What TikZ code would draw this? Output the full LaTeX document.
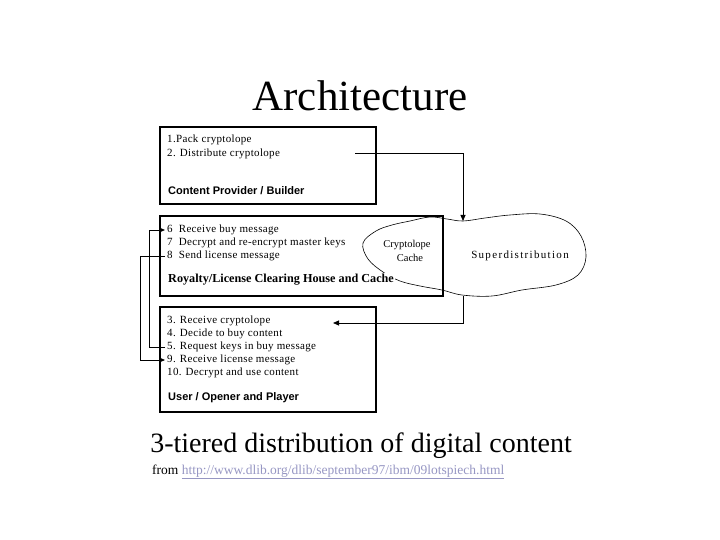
\documentclass[tikz,border=0pt]{standalone}
\usepackage{fontspec}
\setmainfont{Liberation Serif}
\newfontfamily\sansfnt{Liberation Sans}
\newfontfamily\spacedfnt[LetterSpace=12]{Liberation Serif}
\newfontfamily\itemfnt[LetterSpace=3]{Liberation Serif}
\usetikzlibrary{arrows.meta}
\definecolor{linkcol}{RGB}{150,150,195}
\tikzset{
  boxline/.style={draw=black, line width=1.3pt},
  itemtxt/.style={anchor=west, inner sep=2pt, font=\itemfnt\fontsize{11}{12}\selectfont},
  headsans/.style={anchor=west, inner sep=2pt, font=\sansfnt\bfseries\fontsize{11}{12}\selectfont},
  headserif/.style={anchor=west, inner sep=1pt, fill=white, font=\bfseries\fontsize{12.2}{13}\selectfont},
  conn/.style={draw=black, line width=0.8pt},
  tip/.style={-{Triangle[length=6pt,width=5pt]}},
  cloudline/.style={draw=black, line width=0.6pt},
  cloudtxt/.style={inner sep=0pt, font=\fontsize{10.5}{11}\selectfont}
}
\begin{document}
\begin{tikzpicture}[x=1pt,y=-1pt]
\useasboundingbox (0,0) rectangle (720,540);
% title
\node[anchor=base, inner sep=0pt, font=\fontsize{43}{50}\selectfont] (title) at (360,111) {Architecture};
% boxes
\draw[boxline] (160,127) rectangle (376,204);
\draw[boxline, line width=1.6pt] (160,216) rectangle (443,296);
\draw[boxline] (160,307) rectangle (376,412);
% box 1 text
\node[itemtxt] (t1) at (165,140) {1.Pack cryptolope};
\node[itemtxt] (t2) at (165,154) {2. Distribute cryptolope};
\node[headsans] (h1) at (166,191) {Content Provider / Builder};
% box 2 text
\node[itemtxt] (t6) at (165,230) {6\ \ Receive buy message};
\node[itemtxt] (t7) at (165,243) {7\ \ Decrypt and re-encrypt master keys};
\node[itemtxt] (t8) at (165,256) {8\ \ Send license message};
% box 3 text
\node[itemtxt] (t3) at (165,321) {3. Receive cryptolope};
\node[itemtxt] (t4) at (165,334) {4. Decide to buy content};
\node[itemtxt] (t5) at (165,347) {5. Request keys in buy message};
\node[itemtxt] (t9) at (165,360) {9. Receive license message};
\node[itemtxt] (t10) at (165,373) {10. Decrypt and use content};
\node[headsans] (h3) at (166,398) {User / Opener and Player};
% cloud
\draw[cloudline] plot[smooth cycle, tension=0.6] coordinates {
  (363,243) (376,231) (392,225) (410,221) (430,217) (447,219) (463,221)
  (485,218) (510,215) (540,214) (566,221) (581,236) (586,257) (578,275)
  (556,285) (522,290) (492,296) (462,295) (442,290) (420,286) (400,281)
  (383,272) (368,259)};
\node[headserif] (h2) at (167,280) {Royalty/License Clearing House and Cache};
\node[cloudtxt] (cc1) at (407,245) {Cryptolope};
\node[cloudtxt] (cc2) at (410,258) {Cache};
\node[cloudtxt, font=\spacedfnt\fontsize{11}{12}\selectfont] (sd) at (520,256) {Superdistribution};
% connector coordinates
\coordinate (distout) at (355,153);
\coordinate (cloudtop) at (463,221);
\coordinate (cloudbot) at (463,296);
\coordinate (recvin) at (333,323);
% connectors
\draw[conn, tip] (distout) -| (cloudtop);
\draw[conn, tip] (cloudbot) |- (recvin);
\draw[conn, tip] (t5.west) -- ++(-16,0) |- (t6.west);
\draw[conn, tip] (t8.west) -- ++(-25,0) |- (t9.west);
% caption
\node[anchor=base, inner sep=0pt, font=\fontsize{28}{32}\selectfont] (cap) at (361,452) {3-tiered distribution of digital content};
\node[anchor=base west, inner sep=0pt, font=\fontsize{13.5}{16}\selectfont] (from) at (152,474) {from \textcolor{linkcol}{\underline{http://www.dlib.org/dlib/september97/ibm/09lotspiech.html}}};
\end{tikzpicture}
\end{document}
